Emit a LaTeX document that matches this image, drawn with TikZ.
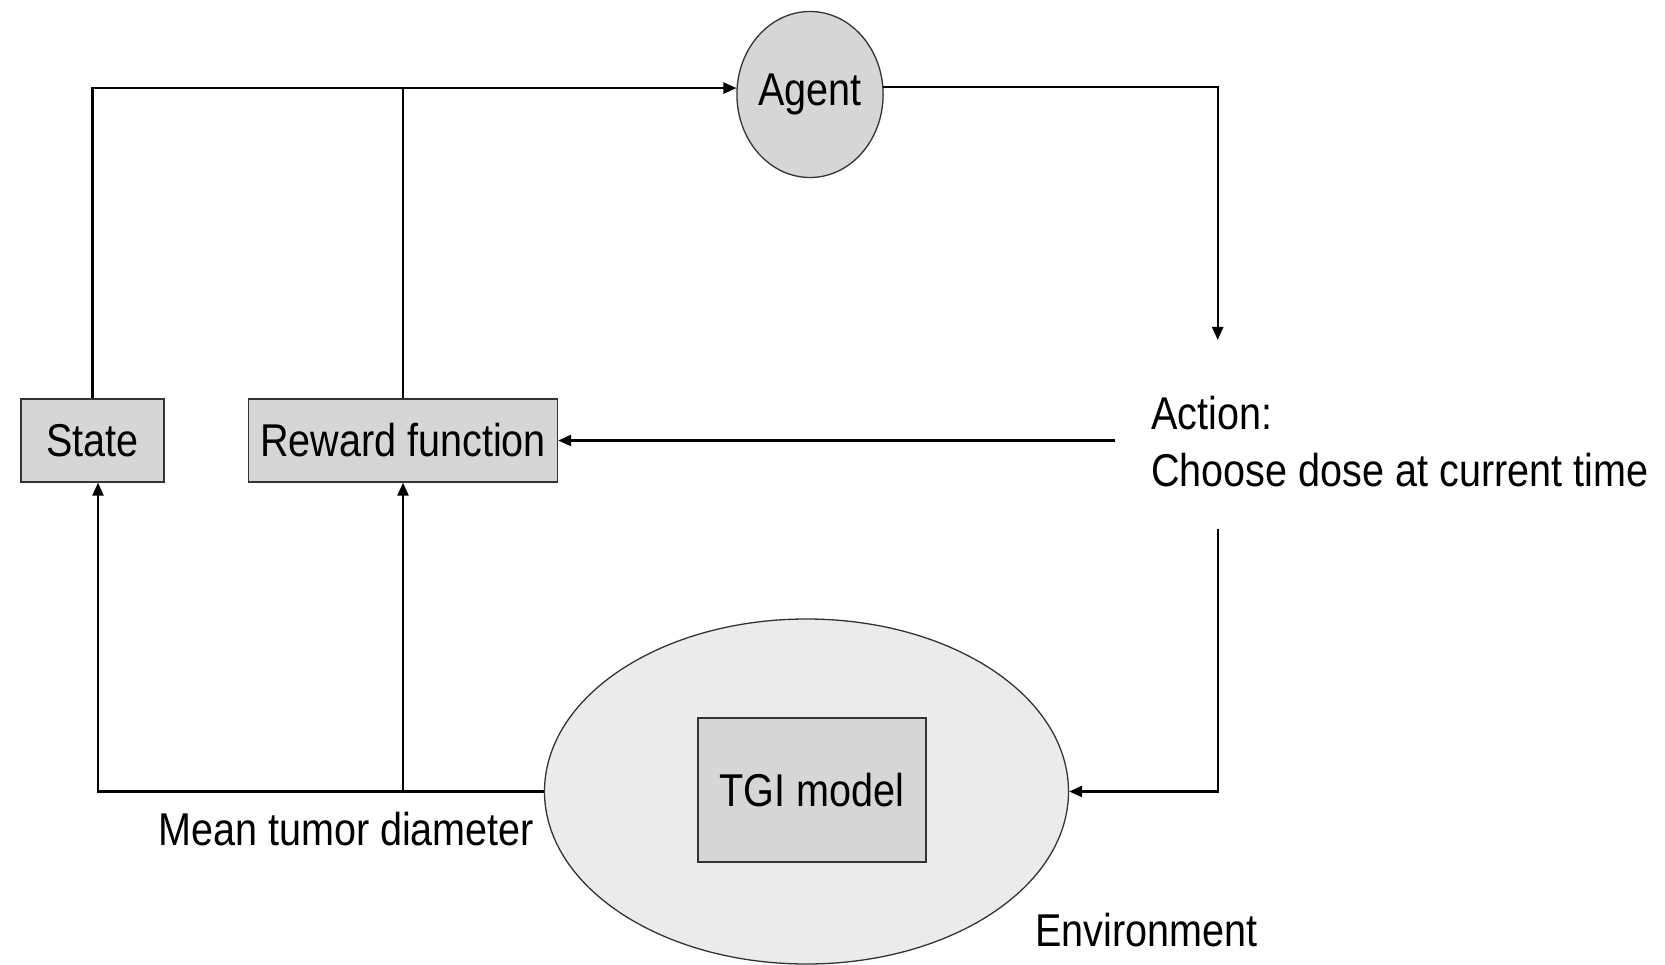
\documentclass[tikz,border=0pt]{standalone}
\usepackage{fontspec}
\setmainfont{Liberation Sans}[FakeStretch=0.86]
\usetikzlibrary{shapes.geometric,arrows.meta}
\definecolor{boxgray}{HTML}{D6D6D6}
\definecolor{envgray}{HTML}{EBEBEB}
\definecolor{edgegray}{HTML}{333333}
\tikzset{
  lbl/.style={font=\fontsize{46}{57}\selectfont, inner sep=0pt},
  graybox/.style={rectangle, draw=edgegray, line width=1.3pt, fill=boxgray, inner sep=0pt},
  flow/.style={line width=2.3pt, -{Triangle[length=13pt,width=11pt]}},
  plain/.style={line width=2.3pt},
}
\begin{document}
\begin{tikzpicture}[x=1pt,y=-1pt]
\useasboundingbox (0,0) rectangle (1665,965);

% agent and environment
\node[ellipse, draw=edgegray, line width=1.3pt, fill=boxgray, minimum width=143pt, minimum height=166pt, inner sep=0pt, lbl] (agent) at (810,94.5) {Agent};
\node[ellipse, draw=edgegray, line width=1.3pt, fill=envgray, minimum width=524pt, minimum height=345pt, inner sep=0pt] (env) at (806.5,791.5) {};
\node[graybox, minimum width=228pt, minimum height=144pt, lbl] (tgi) at (812,790) {TGI model};

% state and reward boxes
\node[graybox, minimum width=143pt, minimum height=83pt, lbl] (state) at (92.5,440.5) {State};
\node[graybox, minimum width=309pt, minimum height=83pt, lbl] (rew) at (403,440.5) {Reward function};

% labels (multi-line node: base is the last line's baseline)
\node[lbl, anchor=base west, align=left] (act) at (1151,486.5) {Action:\\Choose dose at current time};
\node[lbl, anchor=base west] (mtd) at (158,845) {Mean tumor diameter};
\node[lbl, anchor=base west] (envlbl) at (1035,946.5) {Environment};

% free ends around the action text
\coordinate (actTop) at (1217.7,340);
\coordinate (actLeft) at (1115,440.5);
\coordinate (actBot) at (1217.7,529);
\coordinate (stateIn) at ([xshift=5.5pt]state.south);

% feedback to the agent
\draw[flow] (state.north) |- (agent.175);
\draw[plain] (rew.north) -- (rew.north |- agent.175);

% agent chooses an action
\draw[flow] (agent.6.5) -| (actTop);
\draw[flow] (actLeft) -- (rew.east);
\draw[flow] (actBot) |- (env.east);

% environment output
\draw[flow] (env.west) -| (stateIn);
\draw[flow] (rew.south |- env.west) -- (rew.south);
\end{tikzpicture}
\end{document}
